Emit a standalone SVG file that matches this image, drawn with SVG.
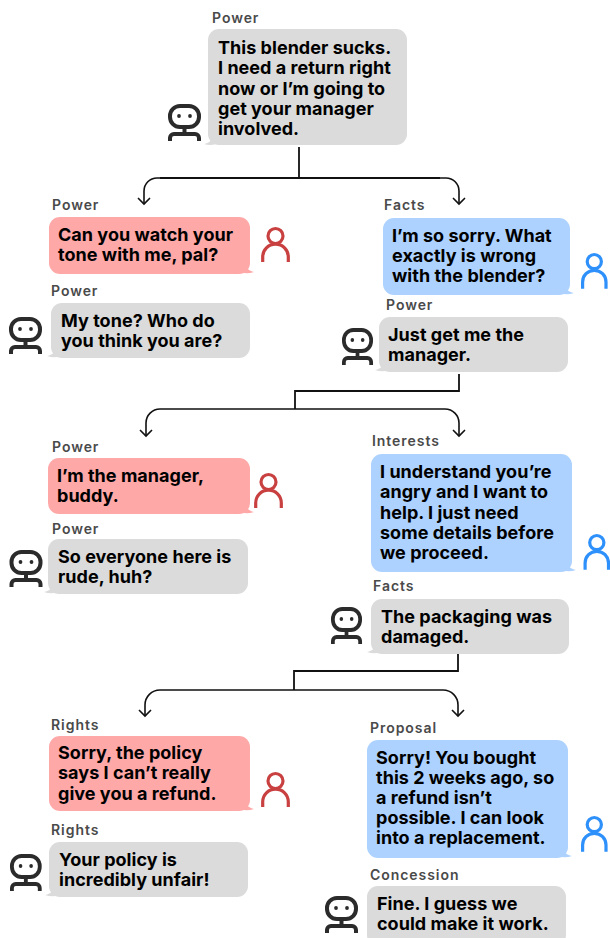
<svg xmlns="http://www.w3.org/2000/svg" width="610" height="938" viewBox="0 0 610 938">
<style>
text{font-family:Inter,"Liberation Sans",sans-serif}
.l{font-size:14px;font-weight:600;fill:#4a4a4a;letter-spacing:.95px}
.t{font-size:18px;font-weight:700;fill:#000;letter-spacing:.03px}
.g{fill:#dbdbdb}.r{fill:#ffa8a8}.b{fill:#add2ff}
.c{fill:none;stroke:#111;stroke-width:1.8}
.e{fill:none;stroke:#111;stroke-width:1.6}
.ic{fill:none;stroke-width:3.2}
</style>
<defs>
<g id="robot"><rect x="2" y="2" width="29" height="21" rx="10" fill="none" stroke="#2b2b2b" stroke-width="4"/><circle cx="11" cy="12" r="1.9" fill="#2b2b2b"/><circle cx="22" cy="12" r="1.9" fill="#2b2b2b"/><path d="M16.5 23V30M2 37V34A4 4 0 0 1 6 30H27A4 4 0 0 1 31 34V37" fill="none" stroke="#2b2b2b" stroke-width="4"/></g>
<g id="person"><circle cx="14.5" cy="9" r="7.5" class="ic" stroke="currentColor"/><path d="M1.7 35V30A12.8 12.8 0 0 1 27.3 30V35" class="ic" stroke="currentColor"/></g>
<g id="person2"><circle cx="13.3" cy="8.6" r="7.1" class="ic" stroke="currentColor"/><path d="M1.6 35.7V29A11.7 11.7 0 0 1 25 29V35.7" class="ic" stroke="currentColor"/></g>
</defs>
<g id="connectors">
<path class="c" d="M299 147V178"/>
<path class="c" d="M160 178H440"/>
<path class="e" d="M160 178H157A13 13 0 0 0 144 191V204"/><path class="e" d="M138 198 144 204 150 198"/>
<path class="e" d="M440 178H446A13 13 0 0 1 459 191V204"/><path class="e" d="M453 198 459 204 465 198"/>
<path class="c" d="M459 374V391H295V409"/>
<path class="e" d="M295 409H160A14 14 0 0 0 146 423V436"/><path class="e" d="M140 430 146 436 152 430"/>
<path class="e" d="M295 409H445A14 14 0 0 1 459 423V436"/><path class="e" d="M453 430 459 436 465 430"/>
<path class="c" d="M458 654V671H294V690"/>
<path class="e" d="M294 690H160A15 15 0 0 0 145 705V716"/><path class="e" d="M139 710 145 716 151 710"/>
<path class="e" d="M294 690H443A15 15 0 0 1 458 705V716"/><path class="e" d="M452 710 458 716 464 710"/>
</g>
<g id="n1"><text class="l" x="212" y="23">Power</text><rect class="g" x="208" y="29" width="199" height="116" rx="11"/><path class="g" d="M213 134C212 140 210 143 204 144C210 146 216 145 222 141Z"/><use href="#robot" x="168" y="104"/><text class="t" x="218" y="54">This blender sucks.</text><text class="t" x="218" y="74">I need a return right</text><text class="t" x="218" y="95">now or I’m going to</text><text class="t" x="218" y="115">get your manager</text><text class="t" x="218" y="135">involved.</text></g>
<g id="n2"><text class="l" x="52" y="210">Power</text><rect class="r" x="49" y="217" width="201" height="57" rx="11"/><path class="r" d="M244 262C246 268 249 271 254 272C248 274 242 274 236 270Z"/><use href="#person" x="261" y="227" color="#c94040"/><text class="t" x="58" y="241">Can you watch your</text><text class="t" x="58" y="261">tone with me, pal?</text></g>
<g id="n3"><text class="l" x="51" y="296">Power</text><rect class="g" x="51" y="303" width="199" height="55" rx="11"/><path class="g" d="M56 346C55 352 53 355 47 356C53 358 59 358 65 354Z"/><use href="#robot" x="9" y="317"/><text class="t" x="61" y="327">My tone? Who do</text><text class="t" x="61" y="347">you think you are?</text></g>
<g id="n4"><text class="l" x="384" y="210">Facts</text><rect class="b" x="383" y="218" width="187" height="77" rx="11"/><path class="b" d="M564 283C566 289 568 292 574 293C568 295 562 295 556 291Z"/><use href="#person2" x="581" y="253" color="#2e90fa"/><text class="t" x="392" y="242">I’m so sorry. What</text><text class="t" x="392" y="262">exactly is wrong</text><text class="t" x="392" y="282">with the blender?</text></g>
<g id="n5"><text class="l" x="386" y="310">Power</text><rect class="g" x="379" y="317" width="189" height="55" rx="11"/><path class="g" d="M384 360C383 366 381 369 375 370C381 372 387 372 393 368Z"/><use href="#robot" transform="translate(342 328) scale(.94 1)"/><text class="t" x="388" y="341">Just get me the</text><text class="t" x="388" y="361">manager.</text></g>
<g id="n6"><text class="l" x="52" y="452">Power</text><rect class="r" x="48" y="458" width="202" height="56" rx="11"/><path class="r" d="M244 502C246 508 249 511 254 512C248 514 242 514 236 510Z"/><use href="#person" x="254" y="473" color="#c94040"/><text class="t" x="57" y="482">I’m the manager,</text><text class="t" x="57" y="502">buddy.</text></g>
<g id="n7"><text class="l" x="52" y="534">Power</text><rect class="g" x="48" y="539" width="200" height="55" rx="11"/><path class="g" d="M53 582C52 588 50 591 44 592C50 594 56 594 62 590Z"/><use href="#robot" x="9.500" y="550"/><text class="t" x="58" y="563">So everyone here is</text><text class="t" x="58" y="583">rude, huh?</text></g>
<g id="n8"><text class="l" x="372" y="446">Interests</text><rect class="b" x="371" y="454" width="201" height="118" rx="11"/><path class="b" d="M566 560C568 566 570 569 576 570C570 572 564 572 558 568Z"/><use href="#person2" x="583.500" y="534" color="#2e90fa"/><text class="t" x="380" y="478">I understand you’re</text><text class="t" x="380" y="498">angry and I want to</text><text class="t" x="380" y="519">help. I just need</text><text class="t" x="380" y="539">some details before</text><text class="t" x="380" y="559">we proceed.</text></g>
<g id="n9"><text class="l" x="373" y="591">Facts</text><rect class="g" x="371" y="599" width="198" height="55" rx="11"/><path class="g" d="M376 642C375 648 373 651 367 652C373 654 379 654 385 650Z"/><use href="#robot" transform="translate(331 607) scale(.94 1)"/><text class="t" x="381" y="623">The packaging was</text><text class="t" x="381" y="643">damaged.</text></g>
<g id="n10"><text class="l" x="51" y="730">Rights</text><rect class="r" x="49" y="736" width="201" height="75" rx="11"/><path class="r" d="M244 799C246 805 249 808 254 809C248 811 242 811 236 807Z"/><use href="#person" x="261" y="772" color="#c94040"/><text class="t" x="58" y="759">Sorry, the policy</text><text class="t" x="58" y="779">says I can’t really</text><text class="t" x="58" y="800">give you a refund.</text></g>
<g id="n11"><text class="l" x="51" y="835">Rights</text><rect class="g" x="49" y="842" width="199" height="55" rx="11"/><path class="g" d="M54 885C53 891 51 894 45 895C51 897 57 897 63 893Z"/><use href="#robot" transform="translate(10 854) scale(.96 1)"/><text class="t" x="59" y="866">Your policy is</text><text class="t" x="59" y="886">incredibly unfair!</text></g>
<g id="n12"><text class="l" x="370" y="733">Proposal</text><rect class="b" x="367" y="740" width="201" height="118" rx="11"/><path class="b" d="M562 846C564 852 566 855 572 856C566 858 560 858 554 854Z"/><use href="#person2" x="581" y="816" color="#2e90fa"/><text class="t" x="376" y="764">Sorry! You bought</text><text class="t" x="376" y="784">this 2 weeks ago, so</text><text class="t" x="376" y="804">a refund isn’t</text><text class="t" x="376" y="824">possible. I can look</text><text class="t" x="376" y="844">into a replacement.</text></g>
<g id="n13"><text class="l" x="370" y="880">Concession</text><rect class="g" x="367" y="886" width="199" height="60" rx="11"/><use href="#robot" x="325" y="896"/><text class="t" x="377" y="910">Fine. I guess we</text><text class="t" x="377" y="930">could make it work.</text></g>
</svg>
